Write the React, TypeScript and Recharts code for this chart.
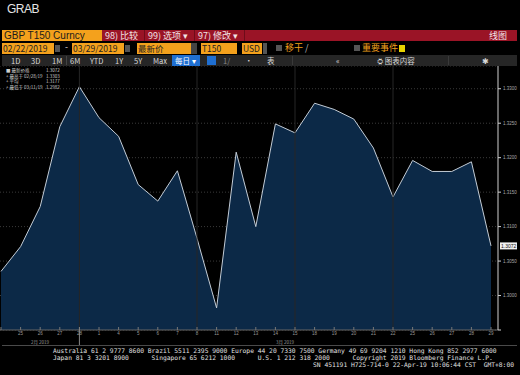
import React from 'react';
import { AreaChart, Area, XAxis, YAxis, CartesianGrid, ReferenceLine } from 'recharts';

// GBP T150 fixings, 22 Feb - 29 Mar 2019
const dates = [
  '2/22', '2/25', '2/26', '2/27', '2/28', '3/1', '3/4', '3/5', '3/6', '3/7', '3/8', '3/11', '3/12',
  '3/13', '3/14', '3/15', '3/18', '3/19', '3/20', '3/21', '3/22', '3/25', '3/26', '3/27', '3/28', '3/29',
];
const prices = [
  1.3035, 1.3071, 1.3129, 1.3245, 1.3303, 1.3258, 1.3231, 1.3161, 1.3137, 1.3181, 1.3083, 1.2982, 1.3208,
  1.31, 1.3249, 1.3236, 1.3279, 1.327, 1.3256, 1.3214, 1.3143, 1.3196, 1.318, 1.318, 1.3194, 1.3072,
];
const yTicks = [1.295, 1.3, 1.305, 1.31, 1.315, 1.32, 1.325, 1.33];
const weekLines = ['2/28', '3/8', '3/15', '3/22'];
const monthLabels = ['2月 2019', '3月 2019'];

const data = dates.map((d, i) => ({ date: d, price: prices[i] }));

const last = prices[prices.length - 1];
const hi = Math.max(...prices);
const lo = Math.min(...prices);
const avg = prices.reduce((a, b) => a + b, 0) / prices.length;
const hiDate = dates[prices.indexOf(hi)];
const loDate = dates[prices.indexOf(lo)];
const fmtDate = (d: string) => {
  const [m, day] = d.split('/');
  return `${m.padStart(2, '0')}/${day.padStart(2, '0')}/19`;
};

const ORANGE = '#f4a11c';
const RED = '#9a1426';
const cjk = '"Noto Sans CJK SC", "Noto Sans", sans-serif';
const mono = '"DejaVu Sans Mono", monospace';

// axis sits at the top of the 16px x-axis band, so the tick gets y of the axis line
const DateTick = (props: any) => {
  const { x, y, payload, index } = props;
  const d: string = payload.value;
  const i = dates.indexOf(d);
  const monthEnd = i >= 0 && i < dates.length - 1 && dates[i + 1].split('/')[0] !== d.split('/')[0];
  return (
    <g>
      <line x1={x} x2={x} y1={y - 3} y2={monthEnd ? y + 15 : y} stroke={monthEnd ? '#888' : '#777'} />
      {index > 0 && (
        <text x={x} y={y + 4.5} fill="#9a9a9a" fontSize={4.5} textAnchor="middle" fontFamily="sans-serif">
          {d.split('/')[1]}
        </text>
      )}
    </g>
  );
};

const LastTag = (props: any) => {
  const { viewBox } = props;
  const x = viewBox.x + viewBox.width + 2;
  const y = viewBox.y;
  return (
    <g>
      <rect x={x} y={y - 3.5} width={17} height={7} fill="#f2f2f2" />
      <text x={x + 1} y={y + 2} fill="#111" fontSize={5} fontFamily="sans-serif">
        {last.toFixed(4)}
      </text>
    </g>
  );
};

const Field = ({ left, width, text, bg = ORANGE, color = '#222' }: any) => (
  <div
    style={{
      position: 'absolute', left, top: 43, width, height: 11, background: bg, color,
      fontSize: 8.5, lineHeight: '11px', paddingLeft: 1, boxSizing: 'border-box', fontFamily: cjk,
      whiteSpace: 'nowrap', overflow: 'hidden',
    }}
  >
    {text}
  </div>
);

const Btn = ({ left, text, color = '#d8d8d8' }: any) => (
  <div style={{ position: 'absolute', left, top: 0, fontSize: 7.5, lineHeight: '11px', color, fontFamily: cjk, whiteSpace: 'nowrap' }}>{text}</div>
);

export default function App() {
  return (
    <div style={{ position: 'absolute', left: 0, top: 0, width: 520, height: 375, background: '#000', overflow: 'hidden', fontFamily: 'sans-serif' }}>
      <div style={{ position: 'absolute', left: 7, top: 2, color: '#e6e6e6', fontSize: 12, letterSpacing: -0.5, fontFamily: '"Liberation Sans", sans-serif' }}>GRAB</div>

      {/* security / command bar */}
      <div style={{ position: 'absolute', left: 2, top: 30, width: 100, height: 11, background: ORANGE, color: '#1b1b1b', fontSize: 10, lineHeight: '11px', paddingLeft: 2, boxSizing: 'border-box', whiteSpace: 'nowrap' }}>
        GBP T150 Curncy
      </div>
      <div style={{ position: 'absolute', left: 102, top: 30, width: 415, height: 11, background: RED, color: '#f3e4e6', fontSize: 9, lineHeight: '11px', fontFamily: cjk, whiteSpace: 'nowrap' }}>
        <span style={{ position: 'absolute', left: 3 }}>98) 比较</span>
        <span style={{ position: 'absolute', left: 42, top: 0, width: 1, height: 11, background: '#6e0c1a' }} />
        <span style={{ position: 'absolute', left: 46 }}>99) 选项 ▾</span>
        <span style={{ position: 'absolute', left: 92, top: 0, width: 1, height: 11, background: '#6e0c1a' }} />
        <span style={{ position: 'absolute', left: 96 }}>97) 修改 ▾</span>
        <span style={{ position: 'absolute', left: 142, top: 0, width: 1, height: 11, background: '#6e0c1a' }} />
        <span style={{ position: 'absolute', right: 10 }}>线图</span>
      </div>

      {/* date / field row */}
      <Field left={2} width={52} text="02/22/2019" />
      <div style={{ position: 'absolute', left: 55, top: 45, width: 5, height: 7, background: '#555' }} />
      <div style={{ position: 'absolute', left: 65, top: 42, color: '#ccc', fontSize: 9 }}>-</div>
      <Field left={72} width={52} text="03/29/2019" />
      <div style={{ position: 'absolute', left: 125, top: 45, width: 5, height: 7, background: '#555' }} />
      <Field left={137} width={54} text="最新价" />
      <div style={{ position: 'absolute', left: 191, top: 43, width: 6, height: 11, background: '#444' }} />
      <Field left={201} width={36} text="T150" />
      <Field left={242} width={20} text="USD" />
      <div style={{ position: 'absolute', left: 263, top: 43, width: 4, height: 11, background: '#555' }} />
      <div style={{ position: 'absolute', left: 276, top: 45, width: 6, height: 6, background: '#555' }} />
      <div style={{ position: 'absolute', left: 285, top: 42, color: ORANGE, fontSize: 9, fontFamily: cjk, lineHeight: '12px', whiteSpace: 'nowrap' }}>移干 <span style={{ color: '#bbb' }}>/</span></div>
      <div style={{ position: 'absolute', left: 354, top: 45, width: 6, height: 6, background: '#555' }} />
      <div style={{ position: 'absolute', left: 362, top: 42, color: ORANGE, fontSize: 9, fontFamily: cjk, lineHeight: '12px', whiteSpace: 'nowrap' }}>重要事件</div>
      <div style={{ position: 'absolute', left: 399, top: 45, width: 6, height: 7, background: '#e8d400' }} />

      {/* toolbar */}
      <div style={{ position: 'absolute', left: 2, top: 55, width: 515, height: 11, background: '#262626' }}>
        <Btn left={9} text="1D" />
        <Btn left={29} text="3D" />
        <Btn left={50} text="1M" />
        <div style={{ position: 'absolute', left: 64, top: 1, width: 1, height: 9, background: '#444' }} />
        <Btn left={68} text="6M" />
        <Btn left={88} text="YTD" />
        <Btn left={113} text="1Y" />
        <Btn left={132} text="5Y" />
        <Btn left={151} text="Max" />
        <div style={{ position: 'absolute', left: 170, top: 0, width: 28, height: 11, background: '#1f6fd1', color: '#fff', fontSize: 7.5, lineHeight: '11px', fontFamily: cjk, paddingLeft: 3, boxSizing: 'border-box', whiteSpace: 'nowrap' }}>每日 ▾</div>
        <div style={{ position: 'absolute', left: 205, top: 1, width: 9, height: 9, background: '#1f6fd1' }} />
        <Btn left={221} text="1/" color="#888" />
        <Btn left={243} text="·" />
        <Btn left={265} text="表" />
        <div style={{ position: 'absolute', left: 290, top: 1, width: 1, height: 9, background: '#3a3a3a' }} />
        <Btn left={334} text="«" />
        <Btn left={375} text="⛭ 图表内容" />
        <div style={{ position: 'absolute', left: 446, top: 1, width: 1, height: 9, background: '#3a3a3a' }} />
        <Btn left={480} text="✱" />
      </div>

      <div style={{ position: 'absolute', left: 0, top: 66 }}>
        <AreaChart width={520} height={280} data={data} margin={{ top: 0, right: 0, left: 0, bottom: 0 }}>
          <CartesianGrid vertical={false} stroke="#3a3a3a" strokeDasharray="1 2" />
          {weekLines.map((d) => (
            <ReferenceLine key={d} x={d} stroke="#262626" strokeWidth={1} />
          ))}
          <XAxis
            dataKey="date"
            padding={{ left: 1, right: 7 }}
            height={16}
            interval={0}
            axisLine={{ stroke: '#666' }}
            tickLine={false}
            tickSize={0}
            tickMargin={0}
            tick={<DateTick />}
          />
          <YAxis
            orientation="right"
            width={22}
            domain={[1.295, 1.3333]}
            ticks={yTicks}
            allowDataOverflow
            axisLine={{ stroke: '#d0d0d0' }}
            tickLine={{ stroke: '#d0d0d0' }}
            tickSize={3}
            tick={{ fill: '#aaa', fontSize: 4.5 }}
            tickFormatter={(v: number) => (v < 1.299 ? '' : v.toFixed(4))}
          />
          <Area
            type="linear"
            dataKey="price"
            stroke="#c3ccd6"
            strokeWidth={1}
            fill="#0c2947"
            fillOpacity={1}
            isAnimationActive={false}
            dot={false}
            activeDot={false}
          />
          <ReferenceLine y={last} stroke="none" label={<LastTag />} />
        </AreaChart>
      </div>

      {/* legend */}
      <div style={{ position: 'absolute', left: 6, top: 68, color: '#cfcfcf', fontSize: 4.5, lineHeight: '5.5px', fontFamily: cjk, whiteSpace: 'nowrap' }}>
        {[
          ['■ 最新价格', '', last],
          ['+ 最高于', fmtDate(hiDate), hi],
          ['+ 平均', '', avg],
          ['+ 最低于', fmtDate(loDate), lo],
        ].map(([a, b, v]: any) => (
          <div key={a} style={{ display: 'flex', width: 62, height: 5.5 }}>
            <span style={{ width: 18, flexShrink: 0 }}>{a}</span>
            <span style={{ width: 22, flexShrink: 0 }}>{b}</span>
            <span>{v.toFixed(4)}</span>
          </div>
        ))}
      </div>

      {/* month labels */}
      <svg style={{ position: 'absolute', left: 0, top: 336 }} width={520} height={9}>
        <text x={40} y={7.5} fill="#999" fontSize={4.5} textAnchor="middle" fontFamily="Noto Sans CJK SC">{monthLabels[0]}</text>
        <text x={285} y={7.5} fill="#999" fontSize={4.5} textAnchor="middle" fontFamily="Noto Sans CJK SC">{monthLabels[1]}</text>
      </svg>
      <div style={{ position: 'absolute', left: 2, top: 345, width: 515, height: 1, background: '#4a4a4a' }} />

      {/* footer */}
      <div style={{ position: 'absolute', left: 53, top: 348, color: '#e0e0e0', fontSize: 6.3, lineHeight: '6.5px', fontFamily: mono, whiteSpace: 'pre' }}>
        {'Australia 61 2 9777 8600 Brazil 5511 2395 9000 Europe 44 20 7330 7500 Germany 49 69 9204 1210 Hong Kong 852 2977 6000\n'}
        {'Japan 81 3 3201 8900      Singapore 65 6212 1000      U.S. 1 212 318 2000      Copyright 2019 Bloomberg Finance L.P.'}
      </div>
      <div style={{ position: 'absolute', right: 6, top: 361, color: '#e0e0e0', fontSize: 6.3, fontFamily: mono, whiteSpace: 'pre' }}>
        SN 451191 H725-714-0 22-Apr-19 10:06:44 CST  GMT+8:00
      </div>
    </div>
  );
}
